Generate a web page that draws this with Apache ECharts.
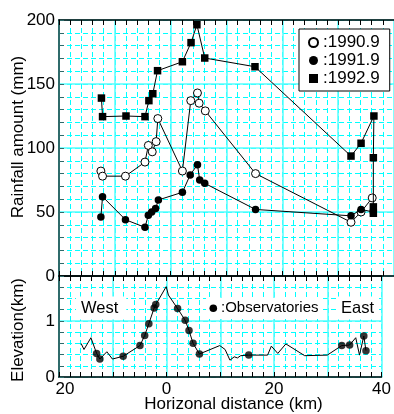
<!DOCTYPE html>
<html><head><meta charset="utf-8">
<script src="https://cdn.jsdelivr.net/npm/echarts@6/dist/echarts.min.js"></script>
<style>html,body{margin:0;padding:0;background:#fff}#c{width:394px;height:414px}</style>
</head><body><div id="c"></div>
<script>
// Rainfall (mm) vs horizontal distance (km; negative = West)
const dist1990 = [-12.5,-12.2,-8.1,-4.6,-4.0,-3.3,-2.6,-2.3,2.1,3.6,4.8,5.1,6.2,15.2,32.3,34.1,36.1];
const rain1990 = [82,78,78,89,102,97,105,123,82,137,143,135,129,80,42,50,61];
const dist1991 = [-12.5,-12.2,-8.1,-4.6,-4.0,-3.4,-2.7,-2.2,2.1,3.5,4.8,5.2,6.1,15.2,32.3,34.1,36.3];
const rain1991 = [46,62,44,38,47.5,50,52.7,59.4,65.4,79,87,75,72.4,52,47,52,50];
const dist1992 = [-12.4,-12.2,-8.0,-4.6,-3.9,-3.2,-2.35,2.1,3.65,4.7,6.1,15.1,32.3,34.1,36.4,36.3,36.3,36.3];
const rain1992 = [139,124.5,125,124.5,137,142.4,160.4,167.4,182.3,196.3,170.3,163.5,93.7,103.7,125,92.4,54,49];
// Terrain profile (km)
const terrainDist = [-15.9,-15.35,-14.06,-13.0,-12.4,-11.1,-10.06,-8.06,-4.94,-4.06,-3.29,-2.3,-2.0,-0.06,0.35,2.06,3.47,4.18,4.94,6.12,9.9,10.9,11.8,12.6,13.2,13.8,15.3,18.8,19.5,20.7,22.2,25.7,29.9,32.6,34.06,35.2,35.9,36.7,37.1];
const terrainElev = [0.60,0.49,0.70,0.42,0.32,0.45,0.32,0.37,0.56,0.74,0.95,1.23,1.29,1.61,1.46,1.22,1.01,0.83,0.60,0.41,0.56,0.49,0.30,0.36,0.34,0.38,0.39,0.39,0.55,0.42,0.59,0.38,0.39,0.56,0.57,0.70,0.39,0.73,0.47];
// Observatories
const obsDist = [-13.0,-12.4,-8.06,-4.94,-4.06,-3.29,-2.3,-2.0,2.06,3.47,4.18,4.94,6.12,15.3,32.6,34.06,36.7,37.1];
const obsElev = [0.42,0.32,0.37,0.56,0.74,0.95,1.23,1.29,1.22,1.01,0.83,0.60,0.41,0.39,0.56,0.57,0.73,0.47];
const legendNames = [':1990.9', ':1991.9', ':1992.9'];
const xLabelStep = 20;

const zip = (a, b) => a.map((v, i) => [v, b[i]]);
const FONT = 'Liberation Sans';
const TEAL = '#2f6b6b';
const DASH = { color: '#00ffff', width: 1, type: [5, 3] };
const SOLID = { color: '#55ffff', width: 1.5 };

// minor axis: ticks + dashed grid every 2 km
const xMinor = (grid, pos, labels, split) => ({
  type: 'value', gridIndex: grid, position: pos, min: -20, max: 40, interval: 2,
  axisLine: { show: true, onZero: false, lineStyle: { color: '#000', width: 1.5 } },
  axisTick: { show: true, inside: true, length: 5, lineStyle: { color: '#000', width: 1 } },
  axisLabel: labels ? {
    show: true, margin: 4, color: '#000', fontFamily: FONT, fontSize: 17, showMaxLabel: true, showMinLabel: true,
    hideOverlap: false,
    formatter: v => (v % xLabelStep === 0) ? (v === -20 ? '{m|' + Math.abs(v) + '}' : String(Math.abs(v))) : '',
    rich: { m: { padding: [0, 0, 0, 12], fontFamily: FONT, fontSize: 17, color: '#000' } }
  } : { show: false },
  splitLine: { show: split, lineStyle: DASH }
});
// major axis: solid grid every 10 km
const xMajor = (grid) => ({
  type: 'value', gridIndex: grid, position: 'bottom', min: -20, max: 40, interval: 10,
  axisLine: { show: false, onZero: false }, axisTick: { show: false }, axisLabel: { show: false },
  splitLine: { show: true, lineStyle: SOLID }
});

const chart = echarts.init(document.getElementById('c'), null, { renderer: 'canvas' });
chart.setOption({
  animation: false,
  backgroundColor: '#fff',
  grid: [
    { left: 59, top: 20, width: 341, height: 256 },
    { left: 59, top: 276, width: 341, height: 101 }
  ],
  xAxis: [
    xMinor(0, 'bottom', false, true),
    xMinor(0, 'top', false, false),
    xMajor(0),
    xMinor(1, 'bottom', true, true),
    xMinor(1, 'top', false, false),
    xMajor(1)
  ],
  yAxis: [
    { type: 'value', gridIndex: 0, min: 0, max: 200, interval: 10, position: 'left',
      axisLine: { show: true, onZero: false, lineStyle: { color: TEAL, width: 2 } },
      axisTick: { show: true, inside: true, length: 5, lineStyle: { color: TEAL } },
      axisLabel: { margin: 4, color: '#000', fontFamily: FONT, fontSize: 17,
        formatter: v => (v % 50 === 0 ? String(v) : '') },
      splitLine: { show: true, lineStyle: DASH } },
    { type: 'value', gridIndex: 0, min: 0, max: 200, interval: 50, position: 'left',
      axisLine: { show: false, onZero: false }, axisTick: { show: false }, axisLabel: { show: false },
      splitLine: { show: true, lineStyle: SOLID } },
    { type: 'value', gridIndex: 1, min: 0, max: 1.8, interval: 0.2, position: 'left',
      axisLine: { show: true, onZero: false, lineStyle: { color: TEAL, width: 2 } },
      axisTick: { show: true, inside: true, length: 5, lineStyle: { color: TEAL } },
      axisLabel: { margin: 4, color: '#000', fontFamily: FONT, fontSize: 17,
        formatter: v => (Math.abs(v) < 1e-6 ? '0' : (Math.abs(v - 1) < 1e-6 ? '1' : '')) },
      splitLine: { show: true, lineStyle: DASH } },
    { type: 'value', gridIndex: 1, min: 0, max: 1.8, interval: 1, position: 'left',
      axisLine: { show: false, onZero: false }, axisTick: { show: false }, axisLabel: { show: false },
      splitLine: { show: true, lineStyle: SOLID } }
  ],
  legend: {
    orient: 'vertical', left: 299, top: 29, padding: [5, 10, 4, 9], itemGap: 1,
    itemWidth: 9, itemHeight: 9, borderColor: '#000', borderWidth: 1, borderRadius: 0,
    backgroundColor: '#fff', selectedMode: false,
    textStyle: { fontSize: 17, fontFamily: FONT, color: '#000' },
    data: [
      { name: legendNames[0], icon: 'circle' },
      { name: legendNames[1], icon: 'circle' },
      { name: legendNames[2], icon: 'rect' }
    ]
  },
  series: [
    { type: 'line', name: legendNames[0], xAxisIndex: 0, yAxisIndex: 0, data: zip(dist1990, rain1990),
      symbol: 'circle', symbolSize: 8, itemStyle: { color: '#fff', borderColor: '#000', borderWidth: 1 },
      lineStyle: { color: '#000', width: 1 }, z: 3 },
    { type: 'line', name: legendNames[1], xAxisIndex: 0, yAxisIndex: 0, data: zip(dist1991, rain1991),
      symbol: 'circle', symbolSize: 7.5, itemStyle: { color: '#000' },
      lineStyle: { color: '#000', width: 1 }, z: 4 },
    { type: 'line', name: legendNames[2], xAxisIndex: 0, yAxisIndex: 0, data: zip(dist1992, rain1992),
      symbol: 'rect', symbolSize: 7.5, itemStyle: { color: '#000' },
      lineStyle: { color: '#000', width: 1 }, z: 5 },
    { type: 'line', name: 'terrain', xAxisIndex: 3, yAxisIndex: 2, data: zip(terrainDist, terrainElev),
      showSymbol: false, lineStyle: { color: '#000', width: 1 }, z: 3 },
    { type: 'scatter', name: 'obs', xAxisIndex: 3, yAxisIndex: 2, data: zip(obsDist, obsElev),
      symbol: 'circle', symbolSize: 7.5, itemStyle: { color: '#000' }, z: 4 }
  ],
  graphic: [
    { type: 'text', x: 18, y: 137, rotation: Math.PI / 2,
      style: { text: 'Rainfall amount (mm)', font: '17px "Liberation Sans"', fill: '#000', align: 'center', verticalAlign: 'middle' } },
    { type: 'text', x: 18, y: 330, rotation: Math.PI / 2,
      style: { text: 'Elevation(km)', font: '17px "Liberation Sans"', fill: '#000', align: 'center', verticalAlign: 'middle' } },
    { type: 'text', x: 233.5, y: 404,
      style: { text: 'Horizonal distance (km)', font: '17px "Liberation Sans"', fill: '#000', align: 'center', verticalAlign: 'middle' } },
    { type: 'text', x: 76, y: 308, z: 100,
      style: { text: 'West', font: '16.5px "Liberation Sans"', fill: '#000', align: 'left', verticalAlign: 'middle',
        backgroundColor: '#fff', padding: [3, 8, 3, 5] } },
    { type: 'rect', z: 100, shape: { x: 206, y: 298, width: 116, height: 21 }, style: { fill: '#fff' } },
    { type: 'circle', z: 101, shape: { cx: 213.3, cy: 308.3, r: 3.8 }, style: { fill: '#000' } },
    { type: 'text', x: 221, y: 308.3, z: 101,
      style: { text: ':Observatories', font: '15px "Liberation Sans"', fill: '#000', align: 'left', verticalAlign: 'middle' } },
    { type: 'text', x: 336, y: 308, z: 100,
      style: { text: 'East', font: '16.5px "Liberation Sans"', fill: '#000', align: 'left', verticalAlign: 'middle',
        backgroundColor: '#fff', padding: [3, 5, 3, 5] } }
  ]
});
</script></body></html>
